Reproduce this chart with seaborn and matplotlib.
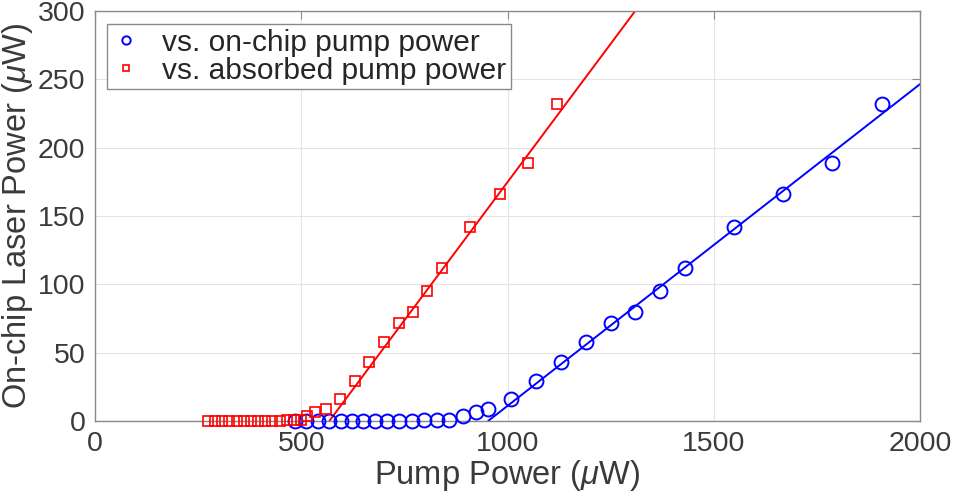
import numpy as np
import pandas as pd
import matplotlib
matplotlib.use('Agg')
import matplotlib.pyplot as plt
import seaborn as sns

# Dados
laser_power = [0.3, 0.3, 0.3, 0.3, 0.3, 0.3, 0.3, 0.3, 0.3, 0.3, 0.3, 0.4, 0.5, 0.8,
               4, 6.5, 9, 16, 29, 43, 58, 72, 80, 95, 112, 142, 166, 189, 232]
onchip_pump = [485, 512, 540, 568, 596, 624, 650, 678, 707, 737, 768, 798, 828, 858,
               892, 923, 953, 1008, 1070, 1130, 1190, 1251, 1309, 1370, 1431, 1550, 1667, 1786, 1907]
absorbed_pump = [274, 291, 309, 326, 344, 361, 378, 396, 413, 430, 448, 465, 483, 500,
                 513, 533, 560, 595, 630, 665, 700, 736, 770, 804, 840, 909, 982, 1050, 1121]

# ajuste linear (limiar, eficiência)
onchip_threshold, onchip_slope = 953, 0.2354
absorbed_threshold, absorbed_slope = 568, 0.4046

sns.set_style('white')
plt.rcParams['font.family'] = ['Liberation Sans', 'DejaVu Sans']
plt.rcParams['mathtext.fontset'] = 'custom'
plt.rcParams['mathtext.it'] = 'Liberation Sans:italic'
plt.rcParams['mathtext.rm'] = 'Liberation Sans'

pontos = pd.DataFrame({'onchip': onchip_pump, 'absorbed': absorbed_pump, 'laser': laser_power})
x_on = np.linspace(onchip_threshold, 2000, 50)
x_ab = np.linspace(absorbed_threshold, 2000, 50)
fit_on = pd.DataFrame({'x': x_on, 'y': onchip_slope * (x_on - onchip_threshold)})
fit_ab = pd.DataFrame({'x': x_ab, 'y': absorbed_slope * (x_ab - absorbed_threshold)})

fig, ax = plt.subplots(figsize=(9.58, 4.94), dpi=100)
fig.subplots_adjust(left=0.0992, right=0.9603, top=0.9777, bottom=0.1478)

sns.lineplot(data=fit_on, x='x', y='y', color='#0000ff', lw=1.4, ax=ax)
sns.lineplot(data=fit_ab, x='x', y='y', color='#ff0000', lw=1.4, ax=ax)
sns.lineplot(data=pontos, x='onchip', y='laser', marker='o', linestyle='', ms=10,
             mfc='none', mec='#0000ff', mew=1.4, clip_on=False, zorder=5,
             label='vs. on-chip pump power', ax=ax)
sns.lineplot(data=pontos, x='absorbed', y='laser', marker='s', linestyle='', ms=7.5,
             mfc='none', mec='#ff0000', mew=1.2, clip_on=False, zorder=5,
             label='vs. absorbed pump power', ax=ax)

ax.set_xlim(0, 2000)
ax.set_ylim(0, 300)
ax.set_xticks([0, 500, 1000, 1500, 2000])
ax.set_yticks([0, 50, 100, 150, 200, 250, 300])
ax.grid(True, color='#e4e4e4', lw=0.8)
for s in ax.spines.values():
    s.set_color('#8a8a8a')
    s.set_linewidth(1.0)
ax.tick_params(direction='in', length=6, width=0.8, color='#8a8a8a', labelsize=20.5,
               labelcolor='#3a3a3a', top=True, right=True, pad=7)
ax.set_xlabel(r'Pump Power ($\mu$W)', fontsize=23.5, color='#3a3a3a', labelpad=1)
ax.set_ylabel(r'On-chip Laser Power ($\mu$W)', fontsize=23.5, color='#3a3a3a', labelpad=2)

handles, labels = ax.get_legend_handles_labels()
leg = ax.legend(handles[-2:], labels[-2:], loc='upper left', fontsize=21.5, markerscale=0.6,
                handlelength=1.0, handletextpad=0.7, borderpad=0.15, labelspacing=0.0,
                borderaxespad=0, fancybox=False, edgecolor='#8a8a8a', framealpha=1,
                bbox_to_anchor=(0.0145, 0.968))
leg.get_frame().set_linewidth(1.0)

plt.savefig('out.png', dpi=100)
